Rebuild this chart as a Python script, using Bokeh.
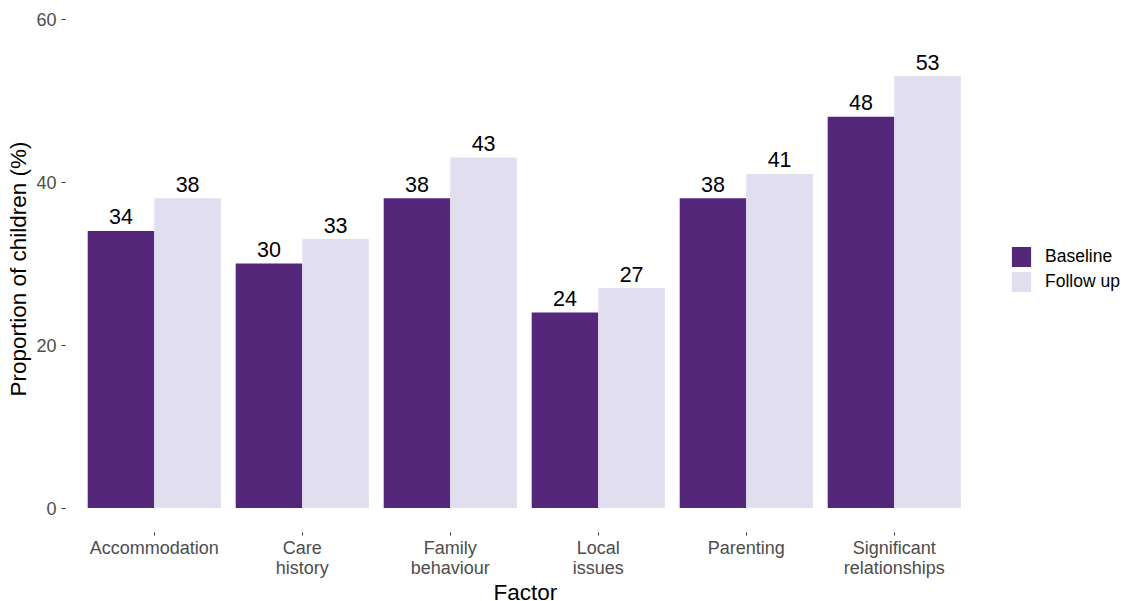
from bokeh.plotting import figure
from bokeh.models import (ColumnDataSource, Range1d, FixedTicker,
                          Legend, LegendItem, Title)
from bokeh.transform import dodge
from bokeh.core.properties import value
from bokeh.embed import file_html
from bokeh.resources import INLINE

factors = ["Accommodation", "Care\nhistory", "Family\nbehaviour", "Local\nissues",
           "Parenting", "Significant\nrelationships"]
baseline = [34, 30, 38, 24, 38, 48]
follow_up = [38, 33, 43, 27, 41, 53]
y_ticks = [0, 20, 40, 60]
series_names = ["Baseline", "Follow up"]
colors = ["#54277A", "#E1DEF0"]

FONT = "Liberation Sans"

pos = list(range(1, len(factors) + 1))
source = ColumnDataSource(data=dict(
    pos=pos,
    baseline=baseline,
    follow_up=follow_up,
    baseline_txt=[str(v) for v in baseline],
    follow_up_txt=[str(v) for v in follow_up],
))

# frame: 65..1121 px wide (1056), 5..532 px tall (527); 148 px per category, 8.15 px per %
p = figure(width=1121, height=601, output_backend="svg", toolbar_location=None,
           x_range=Range1d(0.4, 0.4 + 1056 / 148),
           y_range=Range1d(-3, -3 + 527 / 8.15),
           min_border_left=65, min_border_right=0, min_border_top=5, min_border_bottom=69)

p.outline_line_color = None
p.xgrid.visible = False
p.ygrid.visible = False
p.background_fill_color = "white"
p.border_fill_color = "white"

w = 0.45
r1 = p.vbar(x=dodge("pos", -w / 2), top="baseline", width=w,
            bottom=0, source=source, fill_color=colors[0], line_color=None)
r2 = p.vbar(x=dodge("pos", w / 2), top="follow_up", width=w,
            bottom=0, source=source, fill_color=colors[1], line_color=None)

for col, off in (("baseline", -w / 2), ("follow_up", w / 2)):
    p.text(x=dodge("pos", off), y=col, text=col + "_txt",
           source=source, text_align="center", text_baseline="alphabetic",
           y_offset=-14, text_font=value(FONT), text_font_size="21.5px",
           text_color="black")

# Axes
p.yaxis.ticker = FixedTicker(ticks=y_ticks)
p.xaxis.ticker = FixedTicker(ticks=pos)
p.xaxis.major_label_overrides = {k: f for k, f in zip(pos, factors)}
for ax in (p.xaxis[0], p.yaxis[0]):
    ax.axis_line_color = None
    ax.major_tick_line_color = "#333333"
    ax.major_tick_in = 0
    ax.minor_tick_line_color = None
    ax.major_label_text_font = FONT
    ax.major_label_text_font_size = "18px"
    ax.major_label_text_color = "#4D4D4D"
    ax.axis_label_text_font = FONT
    ax.axis_label_text_font_size = "22.5px"
    ax.axis_label_text_font_style = "normal"
    ax.axis_label_text_color = "black"

p.yaxis.axis_label = "Proportion of children (%)"
p.yaxis.major_tick_out = 4
p.yaxis.major_label_standoff = 5
p.yaxis.axis_label_standoff = 2

p.xaxis.major_tick_out = 3
p.xaxis.major_label_standoff = 2
p.xaxis.major_label_text_line_height = 1.0

# x-axis title, placed under the centre of the categories
x_title = Title(text="Factor", align="left", offset=428, standoff=-6,
                vertical_align="bottom", text_font=FONT, text_font_size="22.5px",
                text_font_style="normal", text_color="black")
p.add_layout(x_title, "below")

legend = Legend(items=[LegendItem(label=series_names[0], renderers=[r1]),
                       LegendItem(label=series_names[1], renderers=[r2])],
                location=(944, 238), orientation="vertical",
                glyph_width=24, glyph_height=25, label_height=25, spacing=0,
                padding=0, margin=0, label_standoff=12,
                border_line_color=None, background_fill_alpha=0,
                label_text_font=FONT, label_text_font_size="17.5px",
                label_text_color="black")
p.add_layout(legend, "center")

open("out.html", "w").write(file_html(p, INLINE))
